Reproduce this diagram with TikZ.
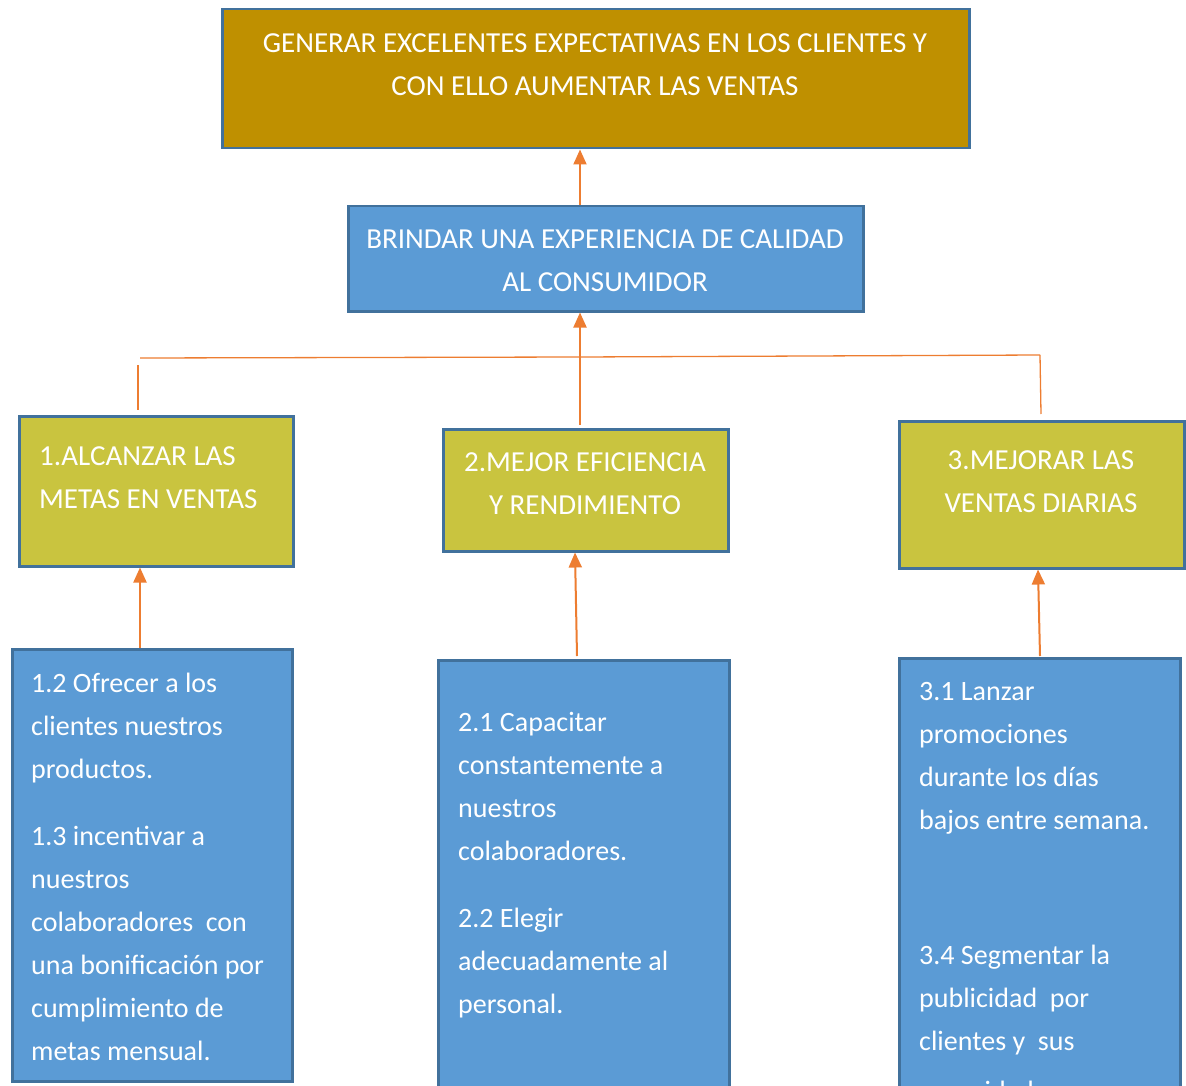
\documentclass[tikz,border=0pt]{standalone}
\usepackage{fontspec}
\setmainfont{Carlito}
\usetikzlibrary{arrows.meta}
\definecolor{gold}{HTML}{BF9000}
\definecolor{bluefill}{HTML}{5B9BD5}
\definecolor{olive}{HTML}{C9C43F}
\definecolor{edge}{HTML}{41719C}
\definecolor{orangeline}{HTML}{ED7D31}
\begin{document}
\begin{tikzpicture}[x=1pt,y=-1pt,
  box/.style={draw=edge,line width=2.5pt,inner sep=0pt,anchor=north west},
  ln/.style={text=white,font=\fontsize{28}{34}\selectfont,inner sep=0pt},
  captxt/.style={text=white,font=\fontsize{29}{34}\selectfont,inner sep=0pt},
  arr/.style={draw=orangeline,line width=2pt,-{Triangle[length=15pt,width=13pt]}},
  thin/.style={draw=orangeline,line width=1.3pt}]
\useasboundingbox (0,0) rectangle (1186,1086);
\clip (0,0) rectangle (1186,1086);
% boxes
\node[box,fill=gold,minimum width=747pt,minimum height=139pt] (top) at (221,8) {};
\node[box,fill=bluefill,minimum width=515pt,minimum height=105pt] (mid) at (347,205) {};
\node[box,fill=olive,minimum width=274pt,minimum height=150pt] (g1) at (18,415) {};
\node[box,fill=olive,minimum width=285pt,minimum height=122pt] (g2) at (442,428) {};
\node[box,fill=olive,minimum width=285pt,minimum height=147pt] (g3) at (898,420) {};
\node[box,fill=bluefill,minimum width=280pt,minimum height=432pt] (b1) at (11,648) {};
\node[box,fill=bluefill,minimum width=291pt,minimum height=440pt] (b2) at (437,659) {};
\node[box,fill=bluefill,minimum width=281pt,minimum height=440pt] (b3) at (898,657) {};
% texts
\node[captxt,anchor=base] (t1) at (595,53) {GENERAR EXCELENTES EXPECTATIVAS EN LOS CLIENTES Y};
\node[captxt,anchor=base] (t2) at (595,96) {CON ELLO AUMENTAR LAS VENTAS};
\node[captxt,anchor=base] (m1) at (605,248) {BRINDAR UNA EXPERIENCIA DE CALIDAD};
\node[captxt,anchor=base] (m2) at (605,291) {AL CONSUMIDOR};
\node[captxt,anchor=base west] (ga1) at (39,465) {1.ALCANZAR LAS};
\node[captxt,anchor=base west] (ga2) at (39,508) {METAS EN VENTAS};
\node[captxt,anchor=base] (gb1) at (585,471) {2.MEJOR EFICIENCIA};
\node[captxt,anchor=base] (gb2) at (585,514) {Y RENDIMIENTO};
\node[captxt,anchor=base] (gc1) at (1041,469) {3.MEJORAR LAS};
\node[captxt,anchor=base] (gc2) at (1041,512) {VENTAS DIARIAS};
\foreach \t [count=\i] in {1.2 Ofrecer a los, clientes nuestros, productos.}
  \node[ln,anchor=base west,name=pa\i] at (31,{692+43*(\i-1)}) {\t};
\foreach \t [count=\i] in {1.3 incentivar a, nuestros, colaboradores\ \ con, una bonificación por, cumplimiento de, metas mensual.}
  \node[ln,anchor=base west,name=pb\i] at (31,{845+43*(\i-1)}) {\t};
\foreach \t [count=\i] in {2.1 Capacitar, constantemente a, nuestros, colaboradores.}
  \node[ln,anchor=base west,name=pc\i] at (458,{731+43*(\i-1)}) {\t};
\foreach \t [count=\i] in {2.2 Elegir, adecuadamente al, personal.}
  \node[ln,anchor=base west,name=pd\i] at (458,{927+43*(\i-1)}) {\t};
\foreach \t [count=\i] in {3.1 Lanzar, promociones, durante los días, bajos entre semana.}
  \node[ln,anchor=base west,name=pe\i] at (919,{700+43.3*(\i-1)}) {\t};
\foreach \t [count=\i] in {3.4 Segmentar la, publicidad\ \ por, clientes y\ \ sus}
  \node[ln,anchor=base west,name=pf\i] at (919,{964+43*(\i-1)}) {\t};
\node[ln,anchor=base west] (pf4) at (919,1100) {necesidades};
% connectors
\coordinate (xa) at (580,0);
\draw[arr] (xa |- mid.north) -- (xa |- top.south);
\coordinate (v2) at (580,425);
\draw[arr] (v2) -- (xa |- mid.south);
\coordinate (h1) at (140,358);
\coordinate (h2) at (580,357);
\coordinate (h3) at (1040,355);
\draw[thin] (h1) -- (h2) -- (h3);
\coordinate (l1) at (138,365);
\coordinate (l2) at (138,410);
\draw[thin] (l1) -- (l2);
\coordinate (r2) at (1041,414);
\draw[thin] (h3) -- (r2);
\coordinate (c1) at (140,0);
\draw[arr] (c1 |- b1.north) -- (c1 |- g1.south);
\coordinate (s2) at (577,656);
\coordinate (e2) at (575,0);
\draw[arr] (s2) -- (e2 |- g2.south);
\coordinate (s3) at (1040,656);
\coordinate (e3) at (1038,0);
\draw[arr] (s3) -- (e3 |- g3.south);
\end{tikzpicture}
\end{document}
